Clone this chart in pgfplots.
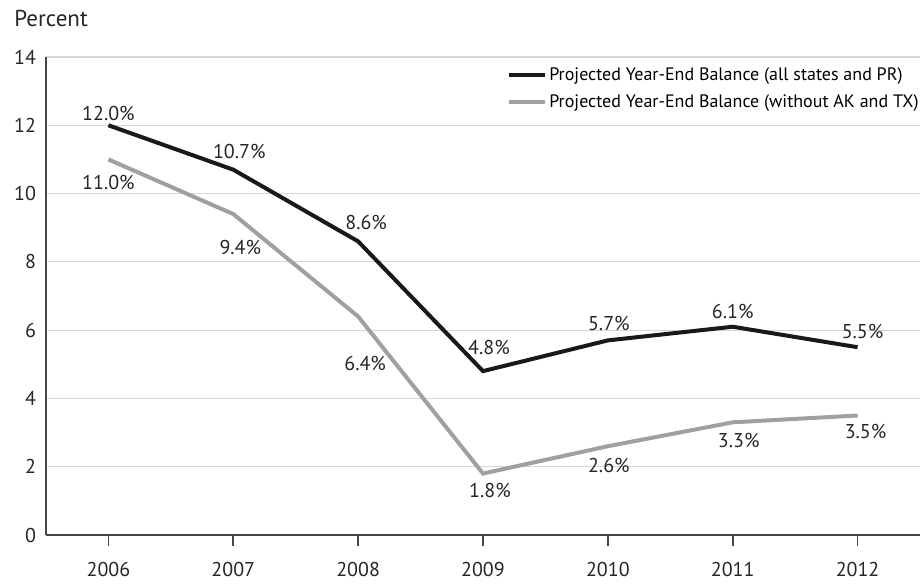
\documentclass[border=0pt]{standalone}
\usepackage{fontspec}
\setmainfont{PT Sans}
\usepackage{pgfplots}
\usepackage{pgfplotstable}
\pgfplotsset{compat=1.18}
\definecolor{lgray}{RGB}{160,160,160}
\definecolor{gridc}{RGB}{215,215,215}
\definecolor{axc}{RGB}{70,70,70}
\pgfplotstableread{
x y dx dy
0 12.0 0 6
1 10.7 3 9
2 8.6 4 9.5
3 4.8 3 12
4 5.7 0.5 8.5
5 6.1 0 7.5
6 5.5 2.5 8
}\allstates
\pgfplotstableread{
x y dx dy
0 11.0 0 -11.5
1 9.4 3.5 -16.5
2 6.4 3.5 -23.5
3 1.8 3.5 -8.5
4 2.6 0.5 -9.5
5 3.3 3 -9
6 3.5 4 -8
}\withoutAKTX
\begin{document}
\fontsize{10}{12}\selectfont
\begin{tikzpicture}
\begin{axis}[
  scale only axis,
  width=437pt, height=239pt,
  xmin=-0.5, xmax=6.5,
  ymin=0, ymax=14,
  ytick={0,2,...,14},
  xtick={0,...,6},
  xticklabels={2006,2007,2008,2009,2010,2011,2012},
  axis x line*=bottom, axis y line*=left,
  axis line style={axc, line width=0.8pt},
  ymajorgrids, grid style={gridc, line width=0.6pt},
  major x tick style={axc, line width=0.8pt},
  ytick style={draw=none},
  tick align=outside,
  major tick length=5.5pt,
  xticklabel style={yshift=-4.5pt},
  yticklabel style={xshift=4pt},
  tick label style={font=\fontsize{10}{12}\selectfont, text=black!85},
  /pgf/number format/assume math mode=true,
  legend style={draw=none, fill=none, at={(rel axis cs:1,1)}, anchor=north east, font=\fontsize{9}{12}\selectfont, row sep=3.5pt, yshift=-4pt, xshift=0.5pt, inner sep=0pt, nodes={inner sep=1pt}},
  legend cell align=left,
  legend image code/.code={\draw[#1, line width=2pt] (0pt,0pt) -- (18pt,0pt);},
  clip=false,
  point meta=explicit,
  visualization depends on={\thisrow{dx} \as \ddx},
  visualization depends on={\thisrow{dy} \as \ddy},
  nodes near coords={\pgfmathprintnumber[fixed,fixed zerofill,precision=1]{\pgfplotspointmeta}\%},
  every node near coord/.append style={font=\fontsize{10}{12}\selectfont, text=black!85, anchor=center, xshift=\ddx pt, yshift=\ddy pt},
]
\addplot[black!90, line width=2pt] table[x=x, y=y, meta=y] {\allstates};
\addlegendentry{Projected Year-End Balance (all states and PR)}
\addplot[lgray, line width=2pt] table[x=x, y=y, meta=y] {\withoutAKTX};
\addlegendentry{Projected Year-End Balance (without AK and TX)}
\node[anchor=base west, font=\fontsize{11.5}{14}\selectfont, text=black!85, inner sep=5pt] at (rel axis cs:0,1) [xshift=-21pt, yshift=15.5pt] {Percent};
\coordinate (bl) at (rel axis cs:0,0);
\coordinate (tr) at (rel axis cs:1,1);
\end{axis}
\pgfresetboundingbox
\path[use as bounding box] ([shift={(-23pt,-25pt)}]bl) rectangle ([shift={(1pt,28.5pt)}]tr);
\end{tikzpicture}
\end{document}
